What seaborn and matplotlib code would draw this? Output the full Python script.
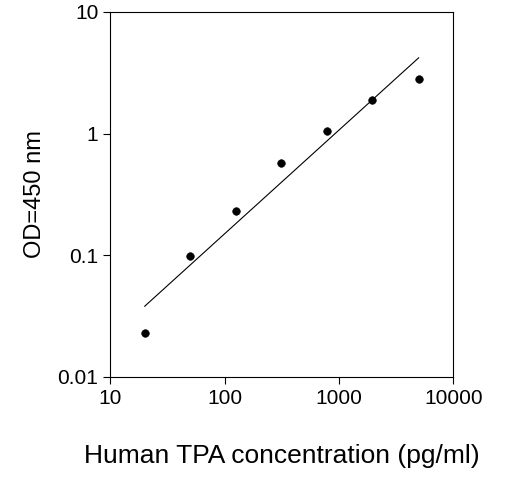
import matplotlib
matplotlib.use("Agg")
import matplotlib.pyplot as plt
import seaborn as sns
from matplotlib.ticker import FixedLocator, FixedFormatter, NullLocator

conc = [20, 50, 125, 312, 781, 1950, 5000]
od = [0.023, 0.099, 0.23, 0.57, 1.05, 1.9, 2.8]
fit_x = [20, 5000]
fit_y = [0.038, 4.2]

sns.set_style("ticks")
plt.rcParams['font.family'] = ['Liberation Sans', 'DejaVu Sans']
plt.rcParams['text.color'] = 'black'
plt.rcParams['axes.labelcolor'] = 'black'

fig = plt.figure(figsize=(5.27, 4.94), dpi=100)
ax = fig.add_axes([0.209, 0.237, 0.651, 0.739])
sns.lineplot(x=fit_x, y=fit_y, ax=ax, color='black', linewidth=0.8)
sns.scatterplot(x=conc, y=od, ax=ax, color='black', s=30, edgecolor='black')
ax.set_xscale('log'); ax.set_yscale('log')
ax.set_xlim(10, 10000); ax.set_ylim(0.01, 10)
xt = [10, 100, 1000, 10000]; yt = [0.01, 0.1, 1, 10]
ax.xaxis.set_major_locator(FixedLocator(xt)); ax.xaxis.set_major_formatter(FixedFormatter(['10', '100', '1000', '10000']))
ax.yaxis.set_major_locator(FixedLocator(yt)); ax.yaxis.set_major_formatter(FixedFormatter(['0.01', '0.1', '1', '10']))
ax.xaxis.set_minor_locator(NullLocator()); ax.yaxis.set_minor_locator(NullLocator())
for s in ax.spines.values():
    s.set_visible(True); s.set_color('black'); s.set_linewidth(0.8)
ax.tick_params(labelsize=15, direction='out', length=5, color='black', labelcolor='black')
ax.set_xlabel('Human TPA concentration (pg/ml)', fontsize=19, labelpad=26)
ax.set_ylabel('OD=450 nm', fontsize=17, labelpad=8)
fig.savefig('out.png', dpi=100)
